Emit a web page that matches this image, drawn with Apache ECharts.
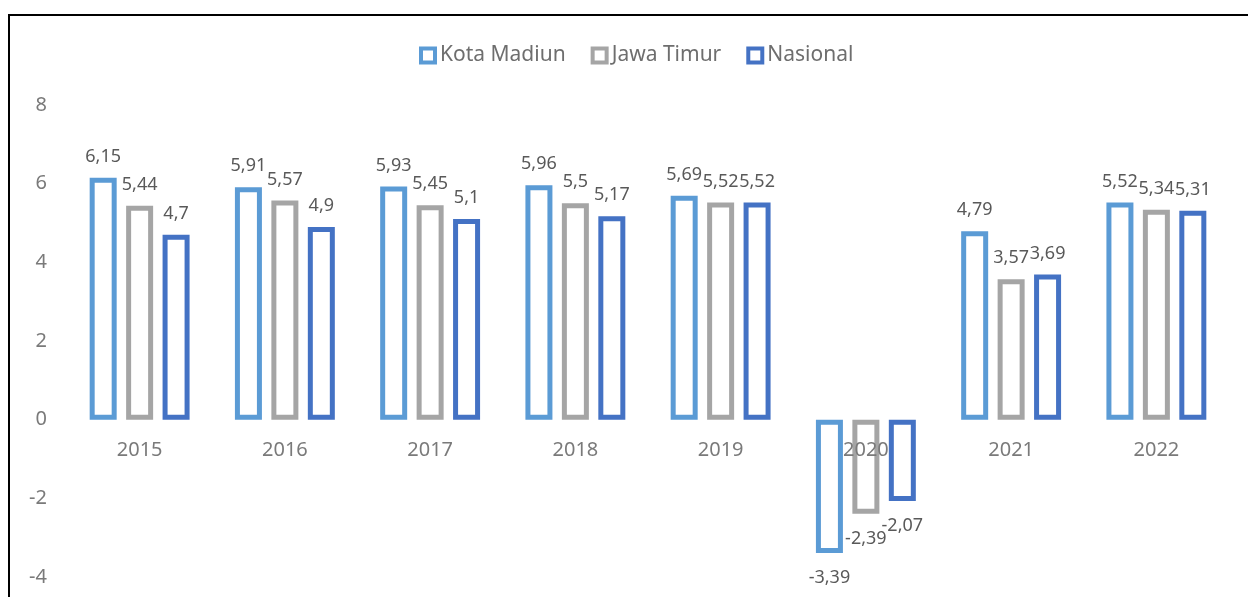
<!DOCTYPE html>
<html>
<head>
<meta charset="utf-8">
<title>Pertumbuhan Ekonomi</title>
<script src="https://cdn.jsdelivr.net/npm/echarts@6/dist/echarts.min.js"></script>
<style>
  html, body { margin: 0; padding: 0; background: #fff; }
  #chart { width: 1248px; height: 597px; }
</style>
</head>
<body>
<div id="chart"></div>
<script>
// Growth rate (%) by year
const years = ['2015', '2016', '2017', '2018', '2019', '2020', '2021', '2022'];
const kotaMadiun = [6.15, 5.91, 5.93, 5.96, 5.69, -3.39, 4.79, 5.52];
const jawaTimur = [5.44, 5.57, 5.45, 5.5, 5.52, -2.39, 3.57, 5.34];
const nasional = [4.7, 4.9, 5.1, 5.17, 5.52, -2.07, 3.69, 5.31];
const seriesNames = ['Kota Madiun', 'Jawa Timur', 'Nasional'];
const seriesColors = ['#5B9BD5', '#A5A5A5', '#4472C4'];
const yMin = -4, yMax = 8, yStep = 2;

const FONT = 'Noto Sans';
const comma = v => String(v).replace('.', ',');

const GRID = { left: 67, right: 19, top: 105, bottom: 20 };
const plotHeight = 597 - GRID.top - GRID.bottom;
// distance from the bottom of the plot up to the zero line
const zeroLift = plotHeight * (0 - yMin) / (yMax - yMin);

// Labels sit above positive bars and below negative ones
function withLabels(values) {
  return values.map(v => v >= 0 ? { value: v } : {
    value: v,
    label: { position: 'bottom', distance: 16 }
  });
}

function barSeries(name, values, color) {
  return {
    name: name,
    type: 'bar',
    barWidth: 27,
    barGap: '35%',
    data: withLabels(values),
    itemStyle: { color: '#ffffff', borderColor: color, borderWidth: 5 },
    label: {
      show: true,
      position: 'top',
      distance: 12,
      color: '#595959',
      fontFamily: FONT,
      fontSize: 18,
      formatter: p => comma(p.value)
    }
  };
}

const chart = echarts.init(document.getElementById('chart'));
chart.setOption({
  animation: false,
  textStyle: { fontFamily: FONT },
  legend: {
    top: 40,
    left: 414,
    icon: 'rect',
    itemWidth: 14,
    itemHeight: 14,
    itemGap: 25,
    textStyle: { color: '#6e6e6e', fontFamily: FONT, fontSize: 21 },
    itemStyle: { borderWidth: 4 },
    data: seriesNames
  },
  grid: Object.assign({ outerBoundsMode: 'none', containLabel: false }, GRID),
  xAxis: {
    type: 'category',
    data: years,
    z: 10,
    position: 'bottom',
    offset: -zeroLift,
    axisLine: { show: false, onZero: false },
    axisTick: { show: false },
    axisLabel: { color: '#7a7a7a', fontFamily: FONT, fontSize: 20, margin: 21 }
  },
  yAxis: {
    type: 'value',
    min: yMin,
    max: yMax,
    interval: yStep,
    splitLine: { show: false },
    axisLine: { show: false },
    axisTick: { show: false },
    axisLabel: { color: '#7a7a7a', fontFamily: FONT, fontSize: 20, margin: 20 }
  },
  graphic: [{
    type: 'rect',
    silent: true,
    shape: { x: 9, y: 15, width: 1400, height: 800 },
    style: { fill: 'none', stroke: '#000', lineWidth: 2 }
  }],
  series: [
    barSeries(seriesNames[0], kotaMadiun, seriesColors[0]),
    barSeries(seriesNames[1], jawaTimur, seriesColors[1]),
    barSeries(seriesNames[2], nasional, seriesColors[2])
  ]
});
</script>
</body>
</html>
